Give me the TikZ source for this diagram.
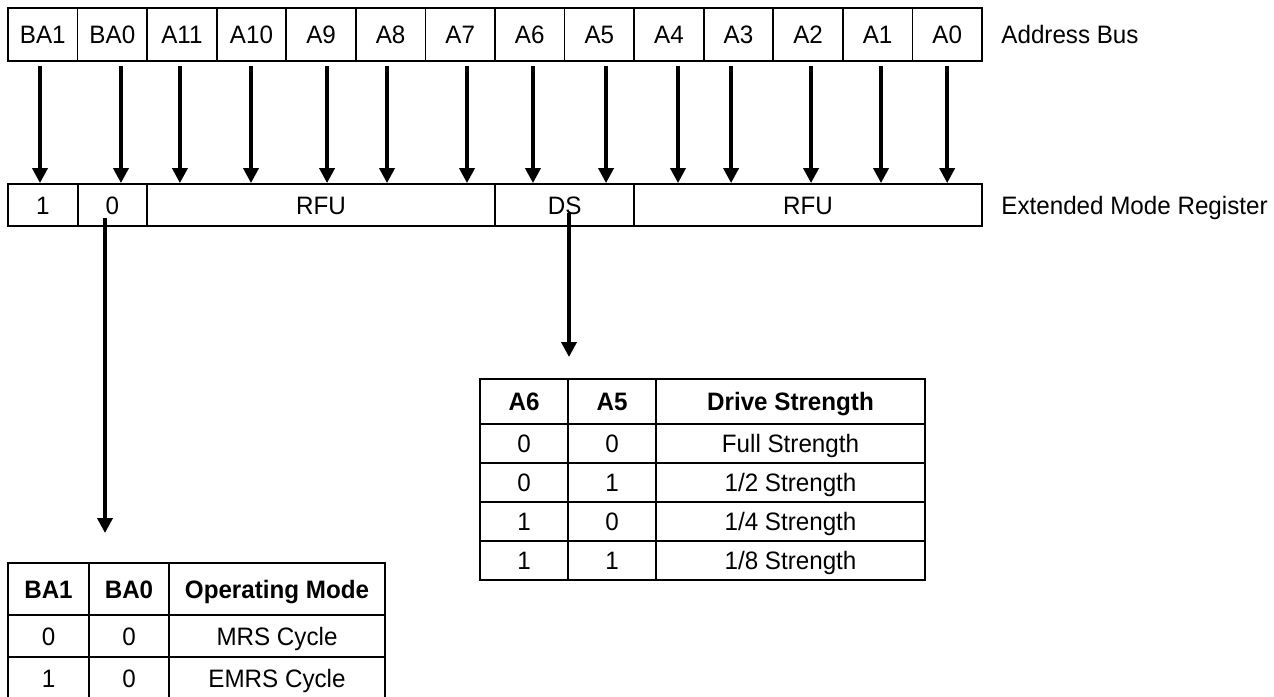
\documentclass[tikz,border=0pt]{standalone}
\usepackage{fontspec}
\setmainfont{Liberation Sans}[FakeStretch=0.96]
\usetikzlibrary{arrows.meta}
\newcommand{\regfont}{\fontsize{12.6}{15}\selectfont}
\tikzset{>={Triangle[width=7.5pt,length=7.5pt]}}
\tikzset{
  capcentre/.style={text height=9pt, text depth=0pt},
  buscell/.style={draw, line width=0.9pt, inner sep=0pt, capcentre, minimum width=34.8pt, minimum height=26.5pt},
  regcell/.style={draw, line width=0.9pt, inner sep=0pt, capcentre, minimum height=21pt},
  tabcell/.style={draw, line width=0.9pt, inner sep=0pt, capcentre},
  headcell/.style={tabcell, font=\regfont\bfseries},
  sidelabel/.style={anchor=west, inner sep=0pt, capcentre},
  bitarrow/.style={->, line width=1.8pt},
}

\begin{document}
\begin{tikzpicture}[x=0.5pt, y=-0.5pt, font=\regfont]
  \useasboundingbox (0,0) rectangle (1274,696);
  % address bus
  \foreach \lbl [count=\i] in {BA1, BA0, A11, A10, A9, A8, A7, A6, A5, A4, A3, A2, A1, A0}
    \node[buscell] (b\i) at ({8+69.57*(\i-0.5)}, 34.5) {\lbl};
  \node[sidelabel] (buslbl) at (1001, 34.5) {Address Bus};
  % extended mode register
  \node[regcell, minimum width=34.8pt] (r1) at (42.8, 205) {1};
  \node[regcell, minimum width=34.8pt] (r0) at (112.4, 205) {0};
  \node[regcell, minimum width=173.9pt] (rfua) at (321.1, 205) {RFU};
  \node[regcell, minimum width=69.6pt] (ds) at (564.6, 205) {DS};
  \node[regcell, minimum width=173.9pt] (rfub) at (808, 205) {RFU};
  \node[sidelabel] (reglbl) at (1001, 205) {Extended Mode Register};
  % bus -> register
  \foreach \i/\dx in {1/-1.4, 2/4.3, 3/-1, 4/-0.25, 5/3, 6/-1.8, 7/3.4, 8/1.6, 9/3.35, 10/4.55, 11/-3.7, 12/1.5, 13/1.7, 14/0}
    \draw[bitarrow] ([xshift=\dx pt, yshift=-2pt]b\i.south) -- ([xshift=\dx pt]b\i.south |- r1.north);
  % register -> tables
  \coordinate (optip) at (105, 533);
  \coordinate (dstip) at (569, 357);
  \draw[bitarrow] ([xshift=-3.7pt, yshift=-6.5pt]r0.center) -- (optip);
  \draw[bitarrow] ([xshift=2.2pt, yshift=-4pt]ds.center) -- (dstip);
  % drive strength table
  \node[headcell, minimum width=44pt, minimum height=22.5pt] (ds-h1) at (524, 401.5) {A6};
  \node[headcell, minimum width=44pt, minimum height=22.5pt] (ds-h2) at (612, 401.5) {A5};
  \node[headcell, minimum width=134.5pt, minimum height=22.5pt] (ds-h3) at (790.5, 401.5) {Drive Strength};
  \node[tabcell, minimum width=44pt, minimum height=19.5pt] (ds-a1) at (524, 443.5) {0};
  \node[tabcell, minimum width=44pt, minimum height=19.5pt] (ds-a2) at (612, 443.5) {0};
  \node[tabcell, minimum width=134.5pt, minimum height=19.5pt] (ds-a3) at (790.5, 443.5) {Full Strength};
  \node[tabcell, minimum width=44pt, minimum height=19.5pt] (ds-b1) at (524, 482.5) {0};
  \node[tabcell, minimum width=44pt, minimum height=19.5pt] (ds-b2) at (612, 482.5) {1};
  \node[tabcell, minimum width=134.5pt, minimum height=19.5pt] (ds-b3) at (790.5, 482.5) {1/2 Strength};
  \node[tabcell, minimum width=44pt, minimum height=19.5pt] (ds-c1) at (524, 521.5) {1};
  \node[tabcell, minimum width=44pt, minimum height=19.5pt] (ds-c2) at (612, 521.5) {0};
  \node[tabcell, minimum width=134.5pt, minimum height=19.5pt] (ds-c3) at (790.5, 521.5) {1/4 Strength};
  \node[tabcell, minimum width=44pt, minimum height=19.5pt] (ds-d1) at (524, 560.5) {1};
  \node[tabcell, minimum width=44pt, minimum height=19.5pt] (ds-d2) at (612, 560.5) {1};
  \node[tabcell, minimum width=134.5pt, minimum height=19.5pt] (ds-d3) at (790.5, 560.5) {1/8 Strength};
  % operating mode table
  \node[headcell, minimum width=40.5pt, minimum height=26pt] (op-h1) at (48.5, 589) {BA1};
  \node[headcell, minimum width=40pt, minimum height=26pt] (op-h2) at (129, 589) {BA0};
  \node[headcell, minimum width=108pt, minimum height=26pt] (op-h3) at (277, 589) {Operating Mode};
  \node[tabcell, minimum width=40.5pt, minimum height=21pt] (op-a1) at (48.5, 636) {0};
  \node[tabcell, minimum width=40pt, minimum height=21pt] (op-a2) at (129, 636) {0};
  \node[tabcell, minimum width=108pt, minimum height=21pt] (op-a3) at (277, 636) {MRS Cycle};
  \node[tabcell, minimum width=40.5pt, minimum height=21pt] (op-b1) at (48.5, 678) {1};
  \node[tabcell, minimum width=40pt, minimum height=21pt] (op-b2) at (129, 678) {0};
  \node[tabcell, minimum width=108pt, minimum height=21pt] (op-b3) at (277, 678) {EMRS Cycle};
\end{tikzpicture}
\end{document}
